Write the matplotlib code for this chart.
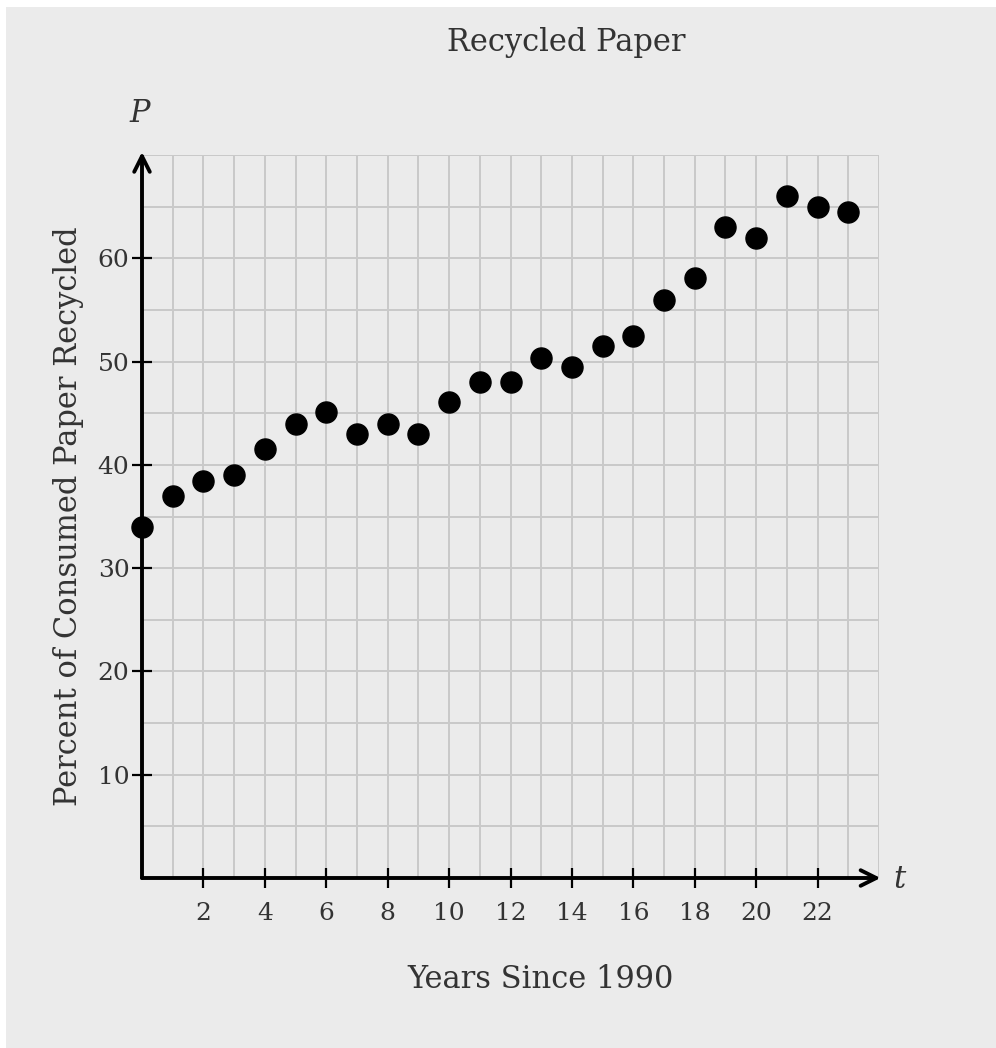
import numpy as np
import matplotlib.pyplot as plt
from matplotlib.patches import Rectangle

# years since 1990 and percent recycled
years = np.arange(0, 24)
percent = [34.0, 37.0, 38.4, 39.0, 41.5, 44.0, 45.1, 43.0, 44.0, 43.0,
           46.1, 48.0, 48.0, 50.3, 49.5, 51.5, 52.5, 56.0, 58.1, 63.0,
           62.0, 66.0, 65.0, 64.5]
xticks = [2, 4, 6, 8, 10, 12, 14, 16, 18, 20, 22]
yticks = [10, 20, 30, 40, 50, 60]

bg = '#ebebeb'
txt = '#333333'
plt.rcParams['font.family'] = ['DejaVu Serif']
plt.rcParams['mathtext.fontset'] = 'dejavuserif'

W, H = 996, 1048
fig = plt.figure(figsize=(W/100, H/100), dpi=100, facecolor='white')
fig.patches.append(Rectangle((6/W, 0), 1, 1 - 7/H, transform=fig.transFigure,
                             facecolor=bg, edgecolor='none', zorder=-1))

ax = fig.add_axes([142/W, 1 - 878/H, (879-142)/W, (878-155)/H])
ax.patch.set_alpha(0)
ax.set_xlim(0, 24)
ax.set_ylim(0, 70)

# grid
for x in range(1, 25):
    ax.axvline(x, color='#c9c9c9', lw=1.4, zorder=1)
for y in range(5, 75, 5):
    ax.axhline(y, color='#c9c9c9', lw=1.4, zorder=1)

for s in ax.spines.values():
    s.set_visible(False)

# axes with arrow heads
ax.annotate('', xy=(24.05, 0), xytext=(0, 0), xycoords='data',
            arrowprops=dict(arrowstyle='->', lw=2.8, color='black',
                            mutation_scale=28, shrinkA=0, shrinkB=0),
            annotation_clip=False, zorder=3)
ax.annotate('', xy=(0, 70.3), xytext=(0, 0), xycoords='data',
            arrowprops=dict(arrowstyle='->', lw=2.8, color='black',
                            mutation_scale=28, shrinkA=0, shrinkB=0),
            annotation_clip=False, zorder=3)

ax.set_xticks(xticks)
ax.set_yticks(yticks)
ax.tick_params(direction='inout', length=14, width=1.6, color='black',
               labelsize=18, labelcolor=txt)
ax.tick_params(axis='x', pad=10)
ax.tick_params(axis='y', pad=2)

ax.scatter(years, percent, s=230, color='black', zorder=4, clip_on=False)

ax.set_xlabel('Years Since 1990', fontsize=22, color=txt)
ax.xaxis.set_label_coords((541 - 142) / (879 - 142), -(980 - 878) / (878 - 155))
ax.xaxis.label.set_va('center')
ax.set_ylabel('Percent of Consumed Paper Recycled', fontsize=22, color=txt,
              labelpad=10)
fig.text(566/W, 1 - 43/H, 'Recycled Paper', fontsize=22, color=txt,
         ha='center', va='center')
fig.text(141/W, 1 - 114/H, '$P$', fontsize=22, color=txt, ha='center', va='center')
fig.text(900/W, 1 - 880/H, '$t$', fontsize=22, color=txt, ha='center', va='center')

fig.savefig('out.png', dpi=100, facecolor='white')
